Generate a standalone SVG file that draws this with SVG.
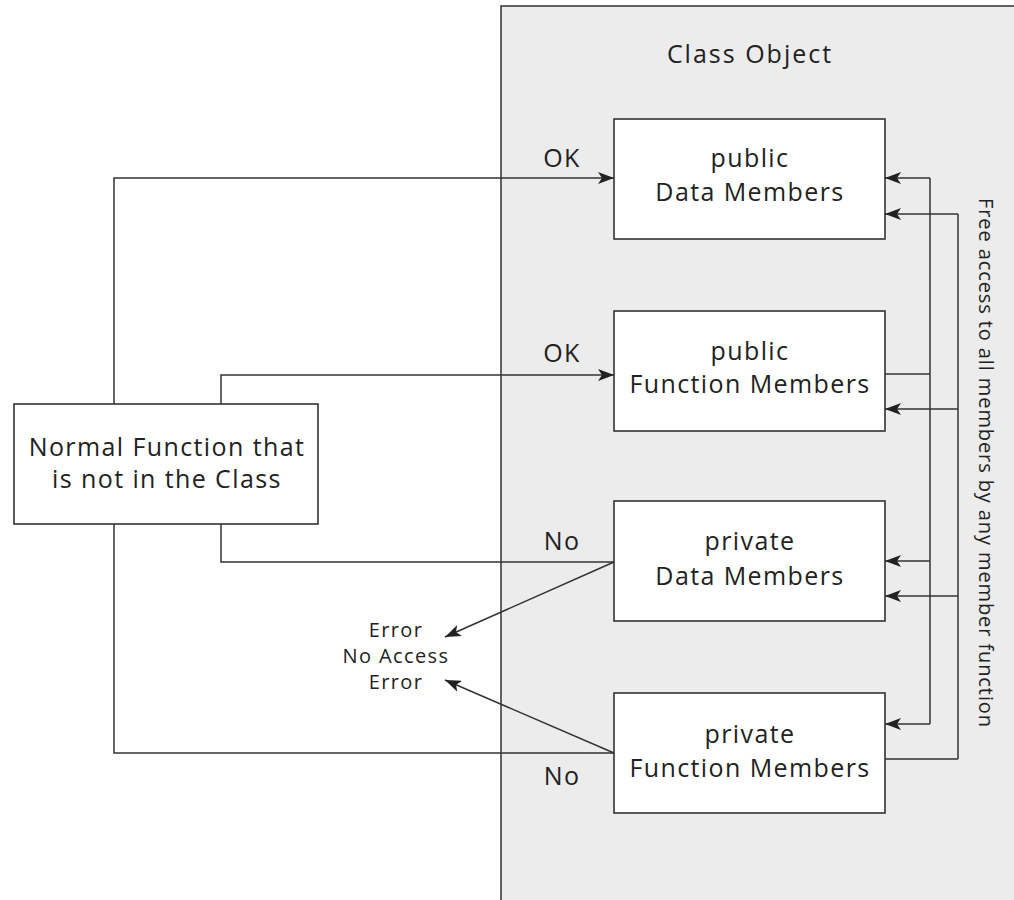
<svg xmlns="http://www.w3.org/2000/svg" width="1014" height="900" viewBox="0 0 1014 900">
<defs>
<marker id="arr" viewBox="0 0 16 12" refX="16" refY="6" markerWidth="16" markerHeight="12" markerUnits="userSpaceOnUse" orient="auto">
<path d="M0,0 L16,6 L0,12 L4,6 Z" fill="#222"/>
</marker>
</defs>
<style>
.box{fill:#fff;stroke:#333;stroke-width:1.6}
.t{font-family:"Open Sans","Liberation Sans",sans-serif;fill:#222;text-anchor:middle}
.big{font-size:25px;letter-spacing:1.4px}
.sm{font-size:20px;letter-spacing:1.4px}
.rot{font-size:20px;letter-spacing:0.9px}
.ln{fill:none;stroke:#333;stroke-width:1.5}
</style>
<rect id="classPanel" x="501" y="6" width="520" height="900" fill="#ebeceb" stroke="#333" stroke-width="1.5"/>
<text class="t big" x="750" y="63" style="letter-spacing:2px">Class Object</text>
<g id="publicData">
<rect class="box" x="614" y="119" width="271" height="120"/>
<text class="t big" x="750" y="167">public</text>
<text class="t big" x="750" y="201">Data Members</text>
</g>
<g id="publicFunc">
<rect class="box" x="614" y="311" width="271" height="120"/>
<text class="t big" x="750" y="360">public</text>
<text class="t big" x="750" y="393">Function Members</text>
</g>
<g id="privateData">
<rect class="box" x="614" y="501" width="271" height="120"/>
<text class="t big" x="750" y="550">private</text>
<text class="t big" x="750" y="585">Data Members</text>
</g>
<g id="privateFunc">
<rect class="box" x="614" y="693" width="271" height="120"/>
<text class="t big" x="750" y="743">private</text>
<text class="t big" x="750" y="777">Function Members</text>
</g>
<g id="normalFunc">
<rect class="box" x="14" y="404" width="304" height="120"/>
<text class="t big" x="167" y="456">Normal Function that</text>
<text class="t big" x="167" y="488">is not in the Class</text>
</g>
<g id="errorNode">
<text class="t sm" x="396" y="637">Error</text>
<text class="t sm" x="396" y="663">No Access</text>
<text class="t sm" x="396" y="689">Error</text>
</g>
<g id="connectors">
<polyline class="ln" points="114,404 114,178 614,178" marker-end="url(#arr)"/>
<polyline class="ln" points="221,404 221,375 614,375" marker-end="url(#arr)"/>
<polyline class="ln" points="221,524 221,562 614,562"/>
<polyline class="ln" points="114,524 114,753 614,753"/>
<line class="ln" x1="614" y1="562" x2="445" y2="637" marker-end="url(#arr)"/>
<line class="ln" x1="614" y1="753" x2="445" y2="680" marker-end="url(#arr)"/>
<polyline class="ln" points="930,178 885,178" marker-end="url(#arr)"/>
<polyline class="ln" points="885,374 930,374"/>
<line class="ln" x1="930" y1="178" x2="930" y2="724"/>
<polyline class="ln" points="930,561 885,561" marker-end="url(#arr)"/>
<polyline class="ln" points="930,724 885,724" marker-end="url(#arr)"/>
<line class="ln" x1="958" y1="214" x2="958" y2="759"/>
<polyline class="ln" points="958,214 885,214" marker-end="url(#arr)"/>
<polyline class="ln" points="958,409 885,409" marker-end="url(#arr)"/>
<polyline class="ln" points="958,596 885,596" marker-end="url(#arr)"/>
<polyline class="ln" points="885,759 958,759"/>
<text class="t big" x="562" y="167">OK</text>
<text class="t big" x="562" y="362">OK</text>
<text class="t big" x="562" y="550">No</text>
<text class="t big" x="562" y="785">No</text>
</g>
<text class="t rot" transform="translate(979,463) rotate(90)">Free access to all members by any member function</text>
</svg>
